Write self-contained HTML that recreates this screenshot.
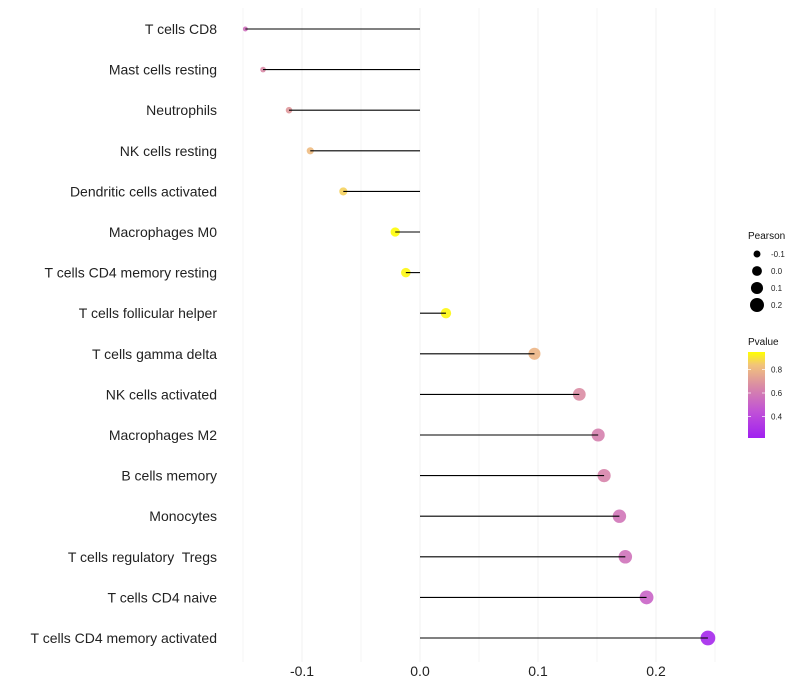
<!DOCTYPE html>
<html><head><meta charset="utf-8"><style>
body{margin:0;background:#fff;}
svg{display:block;font-family:"Liberation Sans",Arial,sans-serif;}
text{white-space:pre;}
</style></head><body>
<svg id="chart" width="800" height="700">
<defs><linearGradient id="pg" x1="0" y1="1" x2="0" y2="0">
<stop offset="0" stop-color="#a020f0"/><stop offset="0.3" stop-color="#c050d8"/><stop offset="0.6" stop-color="#d98aa6"/><stop offset="0.85" stop-color="#f2c47a"/><stop offset="1" stop-color="#ffff00"/></linearGradient></defs>
</svg>
<script>
const categories=["T cells CD8","Mast cells resting","Neutrophils","NK cells resting","Dendritic cells activated","Macrophages M0","T cells CD4 memory resting","T cells follicular helper","T cells gamma delta","NK cells activated","Macrophages M2","B cells memory","Monocytes","T cells regulatory  Tregs","T cells CD4 naive","T cells CD4 memory activated"];
const pearson=[-0.148,-0.133,-0.111,-0.093,-0.065,-0.021,-0.012,0.022,0.097,0.135,0.151,0.156,0.169,0.174,0.192,0.244];
const pvalues=[0.46,0.55,0.60,0.72,0.80,0.95,0.93,0.93,0.70,0.56,0.52,0.53,0.48,0.47,0.42,0.25];
const xTicks=[-0.1,0.0,0.1,0.2];
const xTickLabels=["-0.1","0.0","0.1","0.2"];
const minorTicks=[-0.15,-0.05,0.05,0.15,0.25];
const sizeLegend=[-0.1,0.0,0.1,0.2];
const sizeLegendLabels=["-0.1","0.0","0.1","0.2"];
const colorLegend=[0.4,0.6,0.8];
const colorLegendLabels=["0.4","0.6","0.8"];

const svg=document.getElementById('chart');
const NS='http://www.w3.org/2000/svg';
function mk(t,a,p){const e=document.createElementNS(NS,t);for(const k in a)e.setAttribute(k,a[k]);(p||svg).appendChild(e);return e;}
const xs=v=>420+v*1180;
const ys=i=>29+i*(609/15);
const rs=v=>Math.sqrt(Math.max(4,24.3+123*v));
const stops=[[0.23,[160,32,240]],[0.35,[192,80,216]],[0.55,[217,138,166]],[0.75,[242,196,122]],[0.96,[255,255,0]]];
function col(p){if(p<=stops[0][0])return 'rgb('+stops[0][1]+')';for(let i=1;i<stops.length;i++){if(p<=stops[i][0]){const a=stops[i-1],b=stops[i],t=(p-a[0])/(b[0]-a[0]);return 'rgb('+a[1].map((c,j)=>Math.round(c+(b[1][j]-c)*t)).join(',')+')';}}return 'rgb(255,255,0)';}

minorTicks.forEach(v=>{const g=mk('line',{x1:xs(v),x2:xs(v),y1:8,y2:662,stroke:'#f6f6f6','stroke-width':1});

});
xTicks.forEach((v,i)=>{const g=mk('line',{x1:xs(v),x2:xs(v),y1:8,y2:662,stroke:'#f0f0f0','stroke-width':1});


const t=mk('text',{x:xs(v),y:676,'text-anchor':'middle','font-size':14,fill:'#222'});t.textContent=xTickLabels[i];

});

categories.forEach((c,i)=>{const y=ys(i);
const t=mk('text',{x:217,y:y+5,'text-anchor':'end','font-size':14,fill:'#222'});t.textContent=c;


const pt=mk('circle',{cx:xs(pearson[i]),cy:y,r:rs(pearson[i]),fill:col(pvalues[i]),'fill-opacity':0.9});


const l=mk('line',{x1:xs(0),x2:xs(pearson[i]),y1:y,y2:y,stroke:'#000','stroke-width':1.1});

});

const lt=mk('text',{x:748,y:239,'font-size':10,fill:'#111'});lt.textContent='Pearson';


sizeLegend.forEach((v,i)=>{const y=254+i*17;
const c=mk('circle',{cx:757,cy:y,r:rs(v),fill:'#000'});


const t=mk('text',{x:771,y:y+3,'font-size':8,fill:'#222'});t.textContent=sizeLegendLabels[i];

});
const ct=mk('text',{x:748,y:345,'font-size':10,fill:'#111'});ct.textContent='Pvalue';


const bar=mk('rect',{x:748,y:352,width:17,height:86,fill:'url(#pg)'});


const cy=p=>393-(p-0.6)*117.5;
colorLegend.forEach((p,i)=>{const y=cy(p);
mk('line',{x1:748,x2:751,y1:y,y2:y,stroke:'#fff','stroke-width':0.7});
mk('line',{x1:762,x2:765,y1:y,y2:y,stroke:'#fff','stroke-width':0.7});
const t=mk('text',{x:771,y:y+3,'font-size':8,fill:'#222'});t.textContent=colorLegendLabels[i];

});
</script>
</body></html>
